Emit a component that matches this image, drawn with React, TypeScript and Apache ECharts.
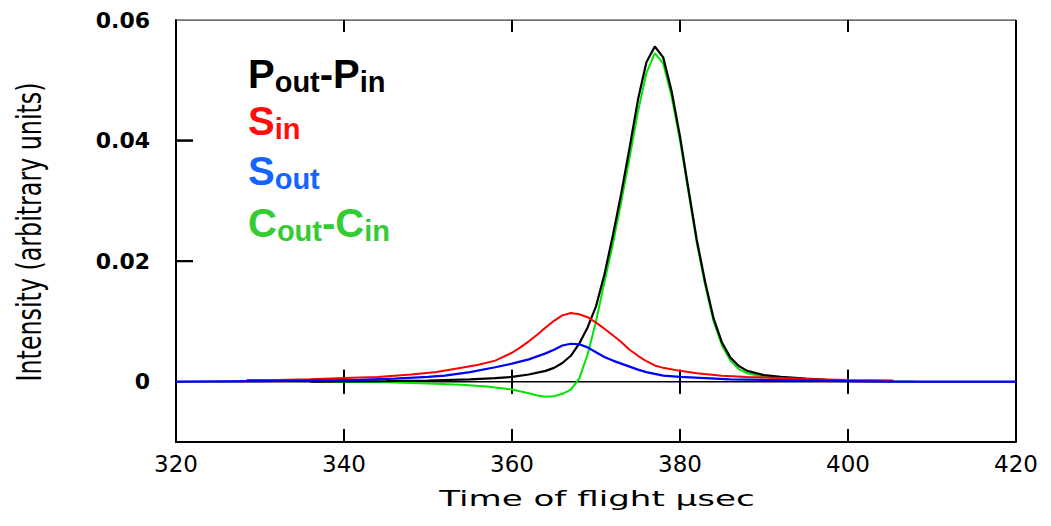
import React, { useEffect, useRef } from "react";
import * as echarts from "echarts";

// ---- data ----
const xLabelValues = [320, 340, 360, 380, 400, 420];
const xTickValues = [340, 360, 380, 400];
const yTickValues = [0.02, 0.04];
const yLabelValues = [0, 0.02, 0.04, 0.06];
const yLabelTexts = ["0", "0.02", "0.04", "0.06"];

const xTitle = "Time of flight \u03bcsec";
const yTitle = "Intensity (arbitrary units)";

// P_out - P_in (black)
const pTimes = [336, 345, 350, 355, 358, 360, 362, 364, 365, 366, 367, 368, 369, 370, 371, 372, 373, 374, 375, 376, 377, 378, 379, 380, 381, 382, 383, 384, 385, 386, 387, 388, 390, 392, 395, 397.5];
const pValues = [0.0, 0.0001, 0.0002, 0.0004, 0.0006, 0.0008, 0.0012, 0.0018, 0.0023, 0.0031, 0.0043, 0.0063, 0.009, 0.0125, 0.0178, 0.0242, 0.0312, 0.0388, 0.0468, 0.053, 0.0556, 0.0538, 0.0482, 0.0407, 0.032, 0.0235, 0.0165, 0.0105, 0.0065, 0.004, 0.0026, 0.0018, 0.0011, 0.0008, 0.0005, 0.0003];

// C_out - C_in (green)
const cTimes = [337, 345, 350, 354, 357, 360, 362, 363, 364, 365, 366, 367, 368, 369, 370, 371, 372, 373, 374, 375, 376, 377, 378, 379, 380, 381, 382, 383, 384, 385, 386, 387, 388, 390, 393, 397, 402, 408];
const cValues = [0.0, -0.0001, -0.0003, -0.0005, -0.0008, -0.0013, -0.0019, -0.0023, -0.0025, -0.0024, -0.002, -0.0013, 0.0005, 0.0045, 0.01, 0.0165, 0.0228, 0.0298, 0.0372, 0.0448, 0.0512, 0.0545, 0.0528, 0.0473, 0.04, 0.0315, 0.023, 0.016, 0.01, 0.006, 0.0035, 0.0021, 0.0014, 0.0008, 0.0004, 0.0002, 0.0001, 0.0];

// S_in (red)
const sInTimes = [328.4, 332, 336, 340, 344, 348, 351, 354, 356, 358, 360, 361, 362, 363, 364, 365, 366, 367, 368, 369, 370, 371, 372, 373, 374, 375, 376, 377, 378, 380, 382, 385, 388, 392, 396, 400, 405.4];
const sInValues = [0.0003, 0.0003, 0.0004, 0.0006, 0.0008, 0.0012, 0.0016, 0.0023, 0.0028, 0.0035, 0.0048, 0.0057, 0.0067, 0.0078, 0.009, 0.0101, 0.011, 0.0114, 0.0112, 0.0107, 0.0098, 0.0088, 0.0077, 0.0066, 0.0053, 0.0043, 0.0034, 0.0027, 0.0023, 0.0018, 0.0014, 0.001, 0.0008, 0.0006, 0.0004, 0.0003, 0.0002];

// S_out (blue)
const sOutTimes = [320, 330, 336, 342, 346, 350, 352, 355, 358, 360, 362, 364, 365, 366, 367, 368, 369, 370, 371, 372, 373, 374, 375, 376, 378, 380, 383, 386, 390, 395, 400, 405, 420];
const sOutValues = [0.0, 0.0001, 0.0002, 0.0003, 0.0005, 0.0008, 0.001, 0.0016, 0.0024, 0.003, 0.0037, 0.0047, 0.0053, 0.006, 0.0063, 0.0062, 0.0057, 0.0049, 0.0041, 0.0035, 0.003, 0.0025, 0.002, 0.0016, 0.001, 0.0008, 0.0006, 0.0004, 0.0003, 0.0002, 0.0001, 0.0, 0.0];

const X_MIN = 320;
const X_MAX = 420;
const Y_MIN = -0.01;
const Y_MAX = 0.06;

const pairs = (ts: number[], vs: number[]) => ts.map((t, i) => [t, vs[i]]);

// frame
const rightBorder = [[X_MAX, Y_MIN], [X_MAX, Y_MAX]];
const topBorder = [[X_MIN, Y_MAX], [X_MAX, Y_MAX]];
const zeroLine = [[X_MIN, 0], [X_MAX, 0]];

const LEG_FONT = "Liberation Sans, Arial, sans-serif";
const MAIN = 40;
const SUB = 29;

function legendPieces(
  parts: { t: string; sub: boolean }[],
  x0: number,
  baseline: number,
  color: string
) {
  const widths: Record<string, number> = { P: 0.667, S: 0.667, C: 0.722, o: 0.611, u: 0.611, t: 0.333, i: 0.278, n: 0.611, "-": 0.333 };
  let x = x0;
  const els: any[] = [];
  for (const p of parts) {
    const size = p.sub ? SUB : MAIN;
    const base = p.sub ? baseline + 4 : baseline;
    els.push({
      type: "text",
      x,
      y: base - 0.35 * size,
      style: {
        text: p.t,
        fill: color,
        fontFamily: LEG_FONT,
        fontWeight: "bold",
        fontSize: size,
        textAlign: "left",
        textVerticalAlign: "middle",
      },
      z: 10,
    });
    let w = 0;
    for (const ch of p.t) w += (widths[ch] ?? 0.6) * size;
    x += w;
  }
  return els;
}

export default function App() {
  const ref = useRef<HTMLDivElement>(null);

  useEffect(() => {
    if (!ref.current) return;
    const chart = echarts.init(ref.current, undefined, { renderer: "svg" });

    const lineCommon = { type: "line", showSymbol: false, symbol: "none", smooth: false };
    const tickScatter = {
      type: "scatter",
      symbol: "rect",
      clip: false,
      silent: true,
      itemStyle: { color: "#000", opacity: 1 },
      z: 3,
    };

    const staticGraphic = [
      ...legendPieces([{ t: "P", sub: false }, { t: "out", sub: true }, { t: "-", sub: false }, { t: "P", sub: false }, { t: "in", sub: true }], 248, 88, "#000000"),
      ...legendPieces([{ t: "S", sub: false }, { t: "in", sub: true }], 248, 135, "#ff0d0d"),
      ...legendPieces([{ t: "S", sub: false }, { t: "out", sub: true }], 248, 185, "#1464ff"),
      ...legendPieces([{ t: "C", sub: false }, { t: "out", sub: true }, { t: "-", sub: false }, { t: "C", sub: false }, { t: "in", sub: true }], 248, 237, "#33cc33"),
      {
        type: "text",
        x: 597,
        y: 498,
        scaleX: 1.55,
        style: { text: xTitle, fill: "#000", fontFamily: "DejaVu Sans", fontSize: 22, textAlign: "center", textVerticalAlign: "middle" },
      },
      {
        type: "text",
        x: 30,
        y: 232,
        rotation: Math.PI / 2,
        scaleX: 0.72,
        style: { text: yTitle, fill: "#000", fontFamily: "DejaVu Sans", fontSize: 33, textAlign: "center", textVerticalAlign: "middle" },
      },
    ];

    const option: any = {
      animation: false,
      grid: { left: 176, right: 35, top: 20, bottom: 84 },
      xAxis: {
        type: "value",
        min: X_MIN,
        max: X_MAX,
        interval: 20,
        splitLine: { show: false },
        axisLine: { show: true, onZero: false, lineStyle: { color: "#000", width: 2 } },
        axisTick: { show: false },
        axisLabel: {
          show: true,
          color: "#000",
          fontFamily: "DejaVu Sans",
          fontSize: 23,
          margin: 10,
          formatter: (v: number) => (xLabelValues.indexOf(v) >= 0 ? String(v) : ""),
        },
      },
      yAxis: {
        type: "value",
        min: Y_MIN,
        max: Y_MAX,
        interval: 0.01,
        splitLine: { show: false },
        axisLine: { show: true, onZero: false, lineStyle: { color: "#000", width: 2 } },
        axisTick: { show: false },
        axisLabel: {
          show: true,
          customValues: yLabelValues,
          color: "#000",
          fontFamily: "DejaVu Sans",
          fontWeight: "bold",
          fontSize: 22,
          margin: 26,
          formatter: (v: number) => {
            const i = yLabelValues.findIndex((x) => Math.abs(x - v) < 1e-9);
            return i >= 0 ? yLabelTexts[i] : "";
          },
        },
      },
      series: [
        { ...lineCommon, name: "frameTop", data: topBorder, lineStyle: { width: 1.5, color: "#444" } },
        { ...lineCommon, name: "frameRight", data: rightBorder, lineStyle: { width: 2, color: "#000" } },
        { ...lineCommon, name: "zero", data: zeroLine, lineStyle: { width: 1.5, color: "#000" } },
        // tick marks drawn as rectangular symbols at the tick values
        { ...tickScatter, name: "tickBottom", data: xTickValues.map((v) => [v, Y_MIN]), symbolSize: [2, 13], symbolOffset: [0, -6.5] },
        { ...tickScatter, name: "tickTop", data: xTickValues.map((v) => [v, Y_MAX]), symbolSize: [2, 12], symbolOffset: [0, 6] },
        { ...tickScatter, name: "tickZero", data: xTickValues.map((v) => [v, 0]), symbolSize: [2, 24], symbolOffset: [0, 0] },
        { ...tickScatter, name: "tickLeft", data: yTickValues.map((v) => [X_MIN, v]), symbolSize: [17, 2], symbolOffset: [8.5, 0] },
        { ...lineCommon, name: "Cout-Cin", data: pairs(cTimes, cValues), lineStyle: { width: 2, color: "#00e600" }, z: 4 },
        { ...lineCommon, name: "Pout-Pin", data: pairs(pTimes, pValues), lineStyle: { width: 2.2, color: "#000000" }, z: 4 },
        { ...lineCommon, name: "Sin", data: pairs(sInTimes, sInValues), lineStyle: { width: 2, color: "#ff0000" }, z: 4 },
        { ...lineCommon, name: "Sout", data: pairs(sOutTimes, sOutValues), lineStyle: { width: 2.2, color: "#0000ff" }, z: 4 },
      ],
      graphic: staticGraphic,
    };

    chart.setOption(option);

    // fallback tick marks placed through the chart's own scales
    try {
      const toPx = (p: number[]) => chart.convertToPixel({ xAxisIndex: 0, yAxisIndex: 0 }, p) as number[];
      const tickEls: any[] = [];
      const st = { stroke: "#000", lineWidth: 2 };
      for (const v of xTickValues) {
        const b = toPx([v, Y_MIN]);
        const t = toPx([v, Y_MAX]);
        const z0 = toPx([v, 0]);
        tickEls.push({ type: "line", shape: { x1: b[0], y1: b[1], x2: b[0], y2: b[1] - 13 }, style: st, z: 3 });
        tickEls.push({ type: "line", shape: { x1: t[0], y1: t[1], x2: t[0], y2: t[1] + 12 }, style: st, z: 3 });
        tickEls.push({ type: "line", shape: { x1: z0[0], y1: z0[1] - 12, x2: z0[0], y2: z0[1] + 12 }, style: st, z: 3 });
      }
      for (const v of yTickValues) {
        const l = toPx([X_MIN, v]);
        tickEls.push({ type: "line", shape: { x1: l[0], y1: l[1], x2: l[0] + 17, y2: l[1] }, style: st, z: 3 });
      }
      chart.setOption({ graphic: [...staticGraphic, ...tickEls] }, { replaceMerge: ["graphic"] });
    } catch (e) {
      // keep the chart as drawn
    }

    return () => chart.dispose();
  }, []);

  return <div ref={ref} style={{ position: "fixed", left: 0, top: 0, width: 1051, height: 526, background: "#fff" }} />;
}
